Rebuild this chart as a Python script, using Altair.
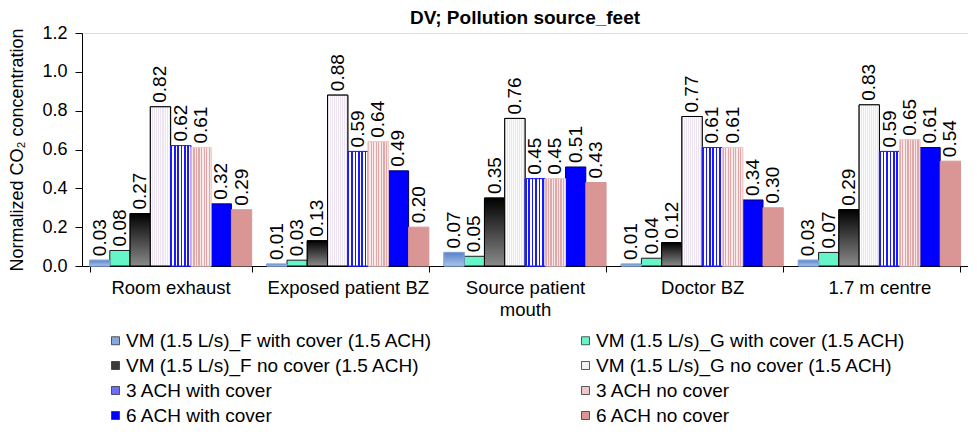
import altair as alt
import pandas as pd

categories = ["Room exhaust", "Exposed patient BZ", "Source patient\nmouth", "Doctor BZ", "1.7 m centre"]
series = [
    "VM (1.5 L/s)_F with cover (1.5 ACH)",
    "VM (1.5 L/s)_G with cover (1.5 ACH)",
    "VM (1.5 L/s)_F no cover (1.5 ACH)",
    "VM (1.5 L/s)_G no cover (1.5 ACH)",
    "3 ACH with cover",
    "3 ACH no cover",
    "6 ACH with cover",
    "6 ACH no cover",
]
values = {
    "Room exhaust":          [0.03, 0.08, 0.27, 0.82, 0.62, 0.61, 0.32, 0.29],
    "Exposed patient BZ":    [0.01, 0.03, 0.13, 0.88, 0.59, 0.64, 0.49, 0.20],
    "Source patient\nmouth": [0.07, 0.05, 0.35, 0.76, 0.45, 0.45, 0.51, 0.43],
    "Doctor BZ":             [0.01, 0.04, 0.12, 0.77, 0.61, 0.61, 0.34, 0.30],
    "1.7 m centre":          [0.03, 0.07, 0.29, 0.83, 0.59, 0.65, 0.61, 0.54],
}
legend_colors = ["#86a8dd", "#66f5c8", "#3a3a3a", "#f5f0f6", "#6e6ef8", "#ecc9c8", "#0000ff", "#d99694"]
stroke_colors = ["#86a8dd", "#1a1a1a", "#000000", "#000000", "#2020ff", "#ecc9c8", "#00006a", "#d99694"]

rows = []
for c in categories:
    for s, v, st in zip(series, values[c], stroke_colors):
        rows.append({"cat": c, "series": s, "value": v, "stroke": st})
df = pd.DataFrame(rows)

FONT = "Liberation Sans"


def stripes(c1, c2, n):
    stops = []
    for i in range(n):
        a = i / n
        b = (i + 0.5) / n
        e = (i + 1) / n
        stops += [alt.GradientStop(offset=a, color=c1), alt.GradientStop(offset=b, color=c1),
                  alt.GradientStop(offset=b, color=c2), alt.GradientStop(offset=e, color=c2)]
    return alt.Gradient(gradient="linear", stops=stops, x1=0, x2=1, y1=0, y2=0)


x_enc = alt.X("cat:N", sort=categories, title=None,
              scale=alt.Scale(paddingInner=0.085, paddingOuter=0.0425),
              axis=alt.Axis(labelAngle=0, labelFontSize=18.5, labelFont=FONT, labelColor="#000",
                            labelExpr="split(datum.label, '\\n')", tickBand="extent",
                            domainColor="#000", tickColor="#000", tickSize=6, labelPadding=6,
                            labelLineHeight=22))
xo_enc = alt.XOffset("series:N", sort=series, scale=alt.Scale(domain=series, paddingInner=0, paddingOuter=0))
y_enc = alt.Y("value:Q", title="Normalized CO\u2082 concentration",
              scale=alt.Scale(domain=[0, 1.2]),
              axis=alt.Axis(values=[0, 0.2, 0.4, 0.6, 0.8, 1.0, 1.2], format=".1f", grid=False,
                            labelFontSize=18, labelFont=FONT, labelColor="#000", labelPadding=8,
                            titleFontSize=18, titleFont=FONT, titleFontWeight="normal", titleColor="#000",
                            domainColor="#000", tickColor="#000", tickSize=7, titlePadding=15))

base = alt.Chart(df)

bars = base.mark_bar(strokeWidth=1).encode(
    x=x_enc, xOffset=xo_enc, y=y_enc,
    color=alt.Color("series:N", sort=series,
                    scale=alt.Scale(domain=series, range=legend_colors),
                    legend=alt.Legend(title=None, orient="none", legendX=24, legendY=298,
                                      direction="horizontal", columns=2, columnPadding=143,
                                      rowPadding=5, labelFontSize=19, labelFont=FONT, labelColor="#000",
                                      labelLimit=600, symbolType="square", symbolSize=64,
                                      symbolStrokeWidth=0.8, symbolStrokeColor="#333",
                                      labelOffset=1)),
    stroke=alt.Stroke("stroke:N", scale=None),
)

grad_specs = {
    "VM (1.5 L/s)_F with cover (1.5 ACH)": alt.Gradient(
        gradient="linear", x1=0, x2=0, y1=0, y2=1,
        stops=[alt.GradientStop(offset=0, color="#5a82c8"), alt.GradientStop(offset=1, color="#a9c3ec")]),
    "VM (1.5 L/s)_F no cover (1.5 ACH)": alt.Gradient(
        gradient="linear", x1=0, x2=0, y1=0, y2=1,
        stops=[alt.GradientStop(offset=0, color="#000000"), alt.GradientStop(offset=1, color="#8a8a8a")]),
    "VM (1.5 L/s)_G no cover (1.5 ACH)": stripes("#ece4f0", "#fdfcfd", 10),
    "3 ACH with cover": stripes("#1a1aff", "#ffffff", 6),
    "3 ACH no cover": stripes("#e2a8a8", "#f8eaea", 8),
}

layers = [bars]
for s, g in grad_specs.items():
    layers.append(
        base.transform_filter(alt.datum.series == s).mark_bar(fill=g, strokeWidth=1).encode(
            x=x_enc, xOffset=xo_enc, y=y_enc, stroke=alt.Stroke("stroke:N", scale=None))
    )

labels = base.mark_text(angle=270, align="left", baseline="middle", dx=4, fontSize=19, font=FONT,
                        color="#000").encode(
    x=x_enc, xOffset=xo_enc, y=y_enc, text=alt.Text("value:Q", format=".2f"))
layers.append(labels)

chart = alt.layer(*layers).properties(
    width=886, height=233,
    title=alt.TitleParams("DV; Pollution source_feet", fontSize=19, font=FONT, fontWeight="bold",
                          color="#000", anchor="middle", offset=-4),
).configure_view(stroke=None).configure(padding={"left": 0, "top": 1, "right": 0, "bottom": 0})

chart.save("out.html", embed_options={"renderer": "svg", "actions": False})
